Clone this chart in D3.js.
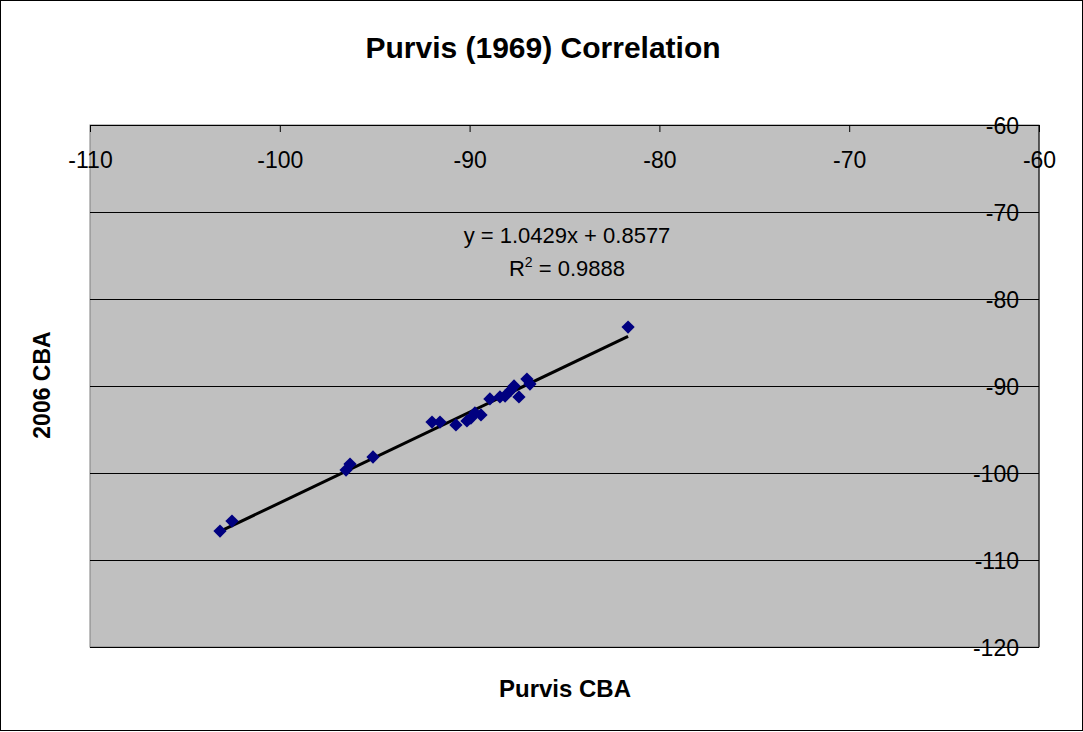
<!DOCTYPE html>
<html>
<head>
<meta charset="utf-8">
<script src="https://cdn.jsdelivr.net/npm/d3@7"></script>
<style>
  body { margin: 0; background: #fff; }
  text { font-family: "Liberation Sans", Arial, sans-serif; fill: #000; }
</style>
</head>
<body>
<div id="chart"></div>
<script>
// Purvis CBA (x) vs 2006 CBA (y)
var purvisCBA = [-103.15, -102.52, -96.51, -96.30, -95.09, -91.98, -91.56, -90.72, -90.14, -89.93,
                 -89.72, -89.40, -88.93, -88.40, -88.13, -87.82, -87.66, -87.40, -86.98, -86.82, -81.65];
var cba2006   = [-106.67, -105.52, -99.66, -98.97, -98.16, -94.14, -94.14, -94.48, -94.02, -93.68,
                 -93.10, -93.33, -91.49, -91.26, -91.15, -90.46, -90.00, -91.26, -89.20, -89.77, -83.22];
var xTicks = [-110, -100, -90, -80, -70, -60];
var yTicks = [-60, -70, -80, -90, -100, -110, -120];
var slope = 1.0429, intercept = 0.8577;
var eqText = "y = 1.0429x + 0.8577";
var r2Text = "0.9888";

var width = 1083, height = 732;
var margin = {top: 125, right: 44, bottom: 85, left: 90};
var w = width - margin.left - margin.right,
    h = height - margin.top - margin.bottom;
var plain = function(d) { return String(d); }; // keep hyphen minus

var svg = d3.select("#chart").append("svg")
    .attr("width", width).attr("height", height);

// chart border
svg.append("rect")
    .attr("x", 0.5).attr("y", 0.5)
    .attr("width", width - 1).attr("height", height - 2)
    .attr("fill", "#fff").attr("stroke", "#000");

svg.append("text")
    .attr("x", 543).attr("y", 58)
    .attr("text-anchor", "middle")
    .style("font-size", "30px").style("font-weight", "bold")
    .text("Purvis (1969) Correlation");

var g = svg.append("g").attr("transform", "translate(" + margin.left + "," + margin.top + ")");

var x = d3.scaleLinear().domain([-110, -60]).range([0, w]);
var y = d3.scaleLinear().domain([-120, -60]).range([h, 0]);

// plot area
g.append("rect")
    .attr("width", w).attr("height", h)
    .attr("fill", "#c0c0c0").attr("stroke", "#808080");

// y gridlines + labels (axis on the right, labels to its left)
var yAxis = g.append("g")
    .attr("transform", "translate(" + w + ",0)")
    .call(d3.axisRight(y).tickValues(yTicks).tickFormat(plain).tickSize(-w).tickPadding(0));
yAxis.select(".domain").remove();
yAxis.selectAll("line").attr("stroke", "#000");
yAxis.selectAll("text")
    .attr("x", -20).attr("dy", "0.36em")
    .attr("text-anchor", "end")
    .style("font-size", "23px").style("font-family", "'Liberation Sans', Arial, sans-serif");

// x axis at the top
var xAxis = g.append("g")
    .call(d3.axisTop(x).tickValues(xTicks).tickFormat(plain).tickSize(-7));
xAxis.select(".domain").attr("stroke", "#000");
xAxis.selectAll("line").attr("stroke", "#000");
xAxis.selectAll("text")
    .attr("y", 43).attr("dy", 0)
    .style("font-size", "23px").style("font-family", "'Liberation Sans', Arial, sans-serif");

// right axis line
g.append("line")
    .attr("x1", w).attr("x2", w).attr("y1", 0).attr("y2", h)
    .attr("stroke", "#000");

// trend line
var data = purvisCBA.map(function(v, i) { return {x: v, y: cba2006[i]}; });
var xExt = d3.extent(purvisCBA);
var trend = xExt.map(function(v) { return {x: v, y: slope * v + intercept}; });
g.append("path")
    .datum(trend)
    .attr("fill", "none").attr("stroke", "#000").attr("stroke-width", 3)
    .attr("d", d3.line().x(function(d) { return x(d.x); }).y(function(d) { return y(d.y); }));

// diamonds
var diamond = d3.symbol().type(d3.symbolSquare).size(88);
g.selectAll(".pt").data(data).enter().append("path")
    .attr("class", "pt")
    .attr("d", diamond)
    .attr("transform", function(d) { return "translate(" + x(d.x) + "," + y(d.y) + ") rotate(45)"; })
    .attr("fill", "#000080");

// equation label
var eq = svg.append("text")
    .attr("text-anchor", "middle")
    .style("font-size", "22px");
eq.append("tspan").attr("x", 567).attr("y", 243).text(eqText);
var l2 = eq.append("tspan").attr("x", 567).attr("y", 276);
l2.append("tspan").text("R");
l2.append("tspan").attr("dy", -9).style("font-size", "14px").text("2");
l2.append("tspan").attr("dy", 9).text(" = " + r2Text);

// axis titles
svg.append("text")
    .attr("x", 565).attr("y", 697)
    .attr("text-anchor", "middle")
    .style("font-size", "24px").style("font-weight", "bold")
    .text("Purvis CBA");
svg.append("text")
    .attr("transform", "translate(50,385) rotate(-90)")
    .attr("text-anchor", "middle")
    .style("font-size", "23px").style("font-weight", "bold")
    .text("2006 CBA");
</script>
</body>
</html>
